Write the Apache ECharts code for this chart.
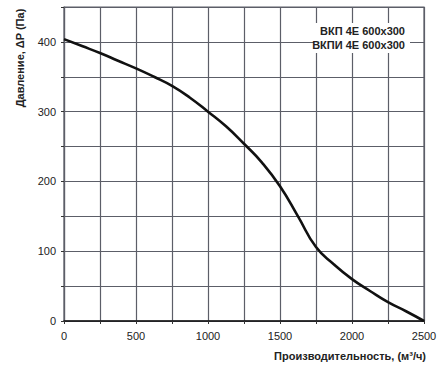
<!DOCTYPE html>
<html><head><meta charset="utf-8">
<script src="https://cdn.jsdelivr.net/npm/echarts@6/dist/echarts.min.js"></script>
<style>html,body{margin:0;padding:0;background:#fff}#c{width:444px;height:372px}</style>
</head><body><div id="c"></div>
<script>
const flow = [0, 125, 250, 375, 500, 625, 750, 875, 1000, 1125, 1250, 1375, 1500, 1625, 1750, 1875, 2000, 2125, 2250, 2375, 2500];
const pressure = [404, 394, 384, 373, 362, 350, 337, 320, 300, 279, 254, 227, 193, 150, 106, 81, 60, 43, 27, 14, 0];
const legendLines = ['ВКП 4E 600x300', 'ВКПИ 4E 600x300'];
const yName = 'Давление, ΔP (Па)';
const xName = 'Производительность, (м³/ч)';

const chart = echarts.init(document.getElementById('c'), null, {renderer: 'svg'});
const font = 'Liberation Sans, Arial, sans-serif';
const gridColor = 'rgb(92,94,104)';
const gridLine = {show: true, lineStyle: {color: gridColor, width: 1.2}};
chart.setOption({
  animation: false,
  grid: {left: 64, right: 20, top: 7, bottom: 51, show: true, borderColor: gridColor, borderWidth: 1.2},
  xAxis: {
    type: 'value', min: 0, max: 2500, interval: 250,
    axisLine: {show: true, onZero: false, lineStyle: {color: '#111', width: 1.5}},
    axisTick: {show: true, length: 3, lineStyle: {color: '#333'}},
    axisLabel: {color: '#222', fontSize: 11, fontFamily: font, margin: 9,
      formatter: v => (v % 500 === 0 ? String(v) : '')},
    splitLine: gridLine
  },
  yAxis: {
    type: 'value', min: 0, max: 450, interval: 50,
    axisLine: {show: true, onZero: false, lineStyle: {color: gridColor, width: 1.2}},
    axisTick: {show: true, length: 3, lineStyle: {color: '#333'}},
    axisLabel: {color: '#222', fontSize: 11, fontFamily: font, margin: 8,
      formatter: v => (v % 100 === 0 && v <= 400 ? String(v) : '')},
    splitLine: gridLine
  },
  graphic: [
    {type: 'rect', shape: {x: 314, y: 23, width: 96, height: 30}, style: {fill: '#fff'}, z: 10},
    {type: 'text', x: 405, y: 31, z: 11, style: {text: legendLines[0], font: 'bold 11px ' + font, fill: '#222', textAlign: 'right', textVerticalAlign: 'middle'}},
    {type: 'text', x: 405, y: 45, z: 11, style: {text: legendLines[1], font: 'bold 11px ' + font, fill: '#222', textAlign: 'right', textVerticalAlign: 'middle'}},
    {type: 'text', x: 20, y: 58, rotation: Math.PI / 2, z: 11, style: {text: yName, font: 'bold 11px ' + font, fill: '#222', textAlign: 'center', textVerticalAlign: 'middle'}},
    {type: 'text', x: 426, y: 356, z: 11, style: {text: xName, font: 'bold 11px ' + font, fill: '#222', textAlign: 'right', textVerticalAlign: 'middle'}}
  ],
  series: [{
    type: 'line', smooth: 0.5, showSymbol: false,
    data: flow.map((f, i) => [f, pressure[i]]),
    lineStyle: {color: '#111', width: 2.6}, z: 5
  }]
});
</script></body></html>
